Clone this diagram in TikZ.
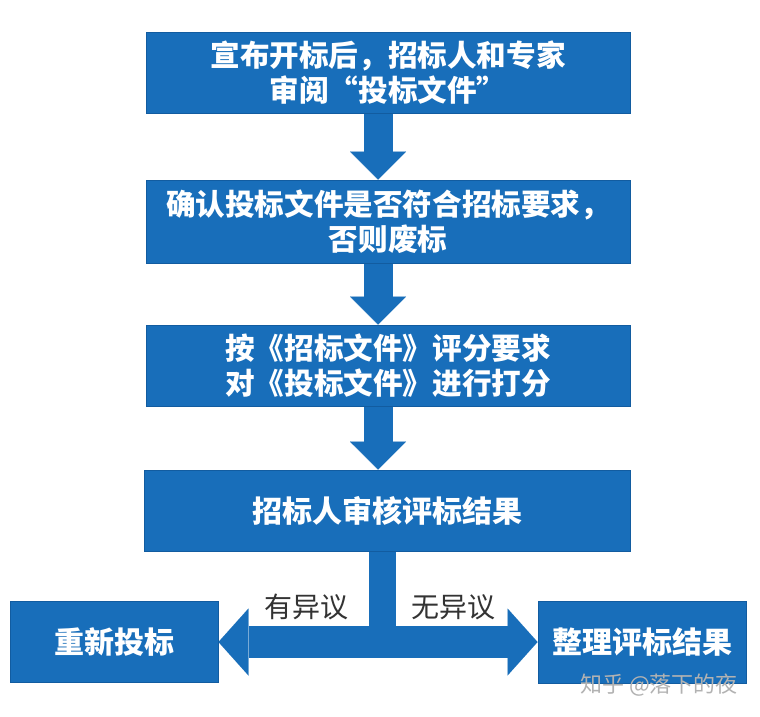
\documentclass[tikz,border=0pt]{standalone}
\usepackage{fontspec}
\setmainfont{Noto Sans CJK SC}
\usetikzlibrary{arrows.meta}
\definecolor{boxblue}{RGB}{24,110,186}
\definecolor{boxedge}{RGB}{18,92,160}
\begin{document}
\begin{tikzpicture}[x=1pt,y=-1pt,
  box/.style={fill=boxblue, draw=boxedge, line width=1pt, text=white,
    font=\fontsize{29.6}{35}\selectfont\bfseries, align=center, inner sep=0pt,
    minimum width=484pt, minimum height=81pt},
  sidebox/.style={box, minimum width=208pt, minimum height=81pt, font=\fontsize{30}{35}\selectfont\bfseries},
  downarrow/.style={draw=boxblue, line width=29pt,
    -{Triangle[width=56pt,length=28pt,line width=0.01pt]}},
  stemline/.style={draw=boxblue, line width=27pt},
  barline/.style={draw=boxblue, line width=32pt,
    {Triangle[width=67pt,length=30pt,line width=0.01pt]}-{Triangle[width=67pt,length=30pt,line width=0.01pt]}},
  lbl/.style={text=black!80, font=\fontsize{28}{30}\selectfont, inner sep=0pt},
  wmark/.style={text=black!30, font=\fontsize{22}{24}\selectfont, inner sep=0pt}
]
\useasboundingbox[fill=white] (0,0) rectangle (760,716);

\node[box] (b1) at (388,72.5) {宣布开标后，招标人和专家\\审阅“投标文件”};
\node[box, minimum height=83pt] (b2) at (388,221.5) {确认投标文件是否符合招标要求，\\否则废标};
\node[box] (b3) at (388,365.5) {按《招标文件》评分要求\\对《投标文件》进行打分};
\node[box, minimum width=486pt, font=\fontsize{30}{35}\selectfont\bfseries] (b4) at (387,510.5) {招标人审核评标结果};
\node[sidebox] (lb) at (114,642) {重新投标};
\node[sidebox, minimum height=82pt] (rb) at (642,642) {整理评标结果};

\coordinate (ax) at (378,0);
\coordinate (sx) at (382.5,0);
\coordinate (jn) at (382.5,642);

\draw[downarrow] (b1.south -| ax) -- (b2.north -| ax);
\draw[downarrow] (b2.south -| ax) -- (b3.north -| ax);
\draw[downarrow] (b3.south -| ax) -- (b4.north -| ax);

\draw[stemline] (b4.south -| sx) -- (jn);
\draw[barline] (lb.east) -- (rb.west);

\node[lbl] (yes) at (306,607) {有异议};
\node[lbl] (no) at (453,607) {无异议};
\node[wmark] (wm) at (659,685) {知乎 @落下的夜};
\end{tikzpicture}
\end{document}
